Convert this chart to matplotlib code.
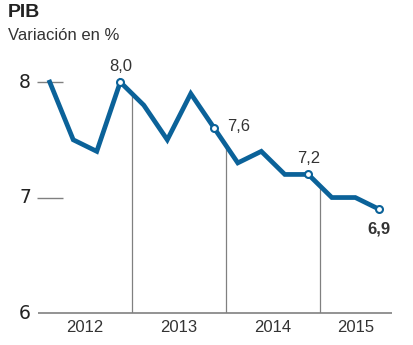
import matplotlib.pyplot as plt
import numpy as np

plt.rcParams['font.family'] = ['Liberation Sans', 'DejaVu Sans']

# quarterly GDP growth, 2012 Q1 .. 2015 Q3
values = [8.0, 7.5, 7.4, 8.0, 7.8, 7.5, 7.9, 7.6, 7.3, 7.4, 7.2, 7.2, 7.0, 7.0, 6.9]
years = ['2012', '2013', '2014', '2015']
yticks = [6, 7, 8]
# indices of the labelled points (last quarter of each year + latest)
marked = [3, 7, 11, 14]

blue = '#0b6299'
grey = '#808080'

x = np.arange(len(values))
fig = plt.figure(figsize=(4.14, 3.45), dpi=100)
ax = fig.add_axes([38 / 414, 32 / 345, 354 / 414, 248.25 / 345])
ax.set_xlim(-0.5, 14.56)
ax.set_ylim(6, 8.15)
ax.axis('off')

# year separators, from the line down to the base
for b in [3.5, 7.5, 11.5]:
    ax.vlines(b, 6, np.interp(b, x, values), color=grey, lw=0.9, zorder=1)

# base line and short tick lines
ax.hlines(6, -0.5, 14.56, color=grey, lw=1.2, clip_on=False)
for t in yticks[1:]:
    ax.hlines(t, -0.55, 0.55, color=grey, lw=1.0, clip_on=False)
for t in yticks:
    ax.text(-0.8, t, str(t), ha='right', va='center', fontsize=13.5,
            family='DejaVu Sans', color='#222222', clip_on=False)

ax.plot(x, values, color=blue, lw=3.4, solid_joinstyle='miter', zorder=3)
ax.plot(x[marked], np.array(values)[marked], 'o', ms=5, mfc='white',
        mec=blue, mew=1.5, zorder=4)

def fmt(v):
    return ('%.1f' % v).replace('.', ',')

ax.annotate(fmt(values[3]), (3, values[3]), xytext=(0, 6), textcoords='offset points',
            ha='center', va='bottom', fontsize=12, color='#333333')
ax.annotate(fmt(values[7]), (7, values[7]), xytext=(9, 1), textcoords='offset points',
            ha='left', va='center', fontsize=12, color='#333333')
ax.annotate(fmt(values[11]), (11, values[11]), xytext=(0, 6), textcoords='offset points',
            ha='center', va='bottom', fontsize=12, color='#333333')
ax.annotate(fmt(values[14]), (14, values[14]), xytext=(0, -9), textcoords='offset points',
            ha='center', va='top', fontsize=12, fontweight='bold', color='#333333')

# year labels centred in their (visible) span
centers = [1.5, 5.5, 9.5, (11.5 + 14.56) / 2]
for c, yr in zip(centers, years):
    ax.annotate(yr, (c, 6), xytext=(0, -5), textcoords='offset points',
                ha='center', va='top', fontsize=12, color='#333333',
                annotation_clip=False)

fig.text(8 / 414, 1 - 4 / 345, 'PIB', ha='left', va='top', fontsize=14,
         fontweight='bold', color='#222222')
fig.text(8 / 414, 1 - 28 / 345, 'Variación en %', ha='left', va='top',
         fontsize=12, color='#333333')

fig.savefig('out.png', dpi=100)
